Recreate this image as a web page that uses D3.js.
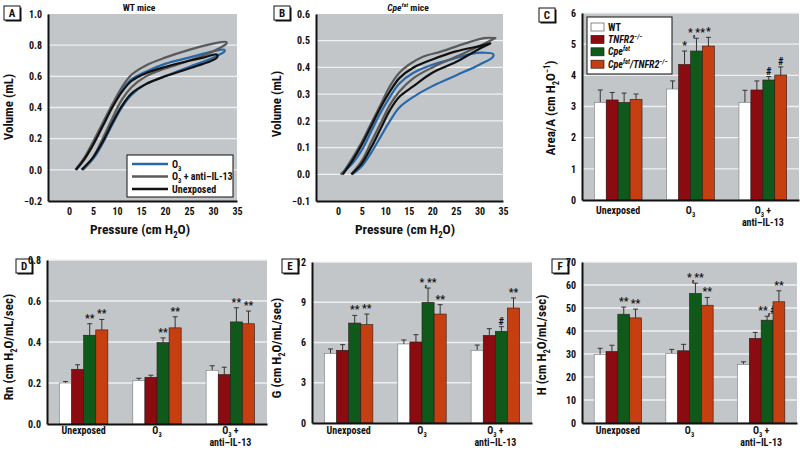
<!DOCTYPE html>
<html><head><meta charset="utf-8">
<script src="https://cdn.jsdelivr.net/npm/d3@7"></script>
<style>
body{margin:0;background:#fff}
svg text{font-family:"Liberation Sans Narrow","Arial Narrow","Roboto Condensed","Liberation Sans",sans-serif;font-weight:bold;fill:#111}
</style></head><body>
<svg id="c" width="800" height="451"></svg>
<script>
// ---------------- DATA ----------------
const groups = ["Unexposed", "O3", "O3 + anti-IL-13"];
const genotypes = ["WT", "TNFR2-/-", "Cpefat", "Cpefat/TNFR2-/-"];
const barColors = ["#ffffff", "#8a0c10", "#0f5a1b", "#c63f10"];

const areaMean = [[3.13, 3.21, 3.13, 3.23], [3.56, 4.35, 4.78, 4.94], [3.13, 3.53, 3.85, 4.01]];
const areaSE   = [[0.40, 0.24, 0.30, 0.17], [0.26, 0.43, 0.41, 0.28], [0.39, 0.29, 0.11, 0.26]];
const areaSig  = [["", "", "", ""], ["", "*", "*,**", "*"], ["", "", "#", "#"]];

const rnMean = [[0.200, 0.267, 0.433, 0.459], [0.211, 0.228, 0.397, 0.469], [0.262, 0.241, 0.498, 0.489]];
const rnSE   = [[0.007, 0.022, 0.056, 0.051], [0.012, 0.010, 0.023, 0.054], [0.022, 0.036, 0.069, 0.062]];
const rnSig  = [["", "", "**", "**"], ["", "", "**", "**"], ["", "", "**", "**"]];

const gMean = [[5.19, 5.42, 7.45, 7.33], [5.89, 6.04, 8.99, 8.12], [5.42, 6.53, 6.83, 8.57]];
const gSE   = [[0.33, 0.42, 0.57, 0.79], [0.30, 0.54, 1.07, 0.70], [0.39, 0.50, 0.35, 0.75]];
const gSig  = [["", "", "**", "**"], ["", "", "*,**", "**"], ["", "", "#", "**"]];

const hMean = [[29.8, 31.1, 47.3, 45.7], [30.3, 31.4, 56.3, 51.2], [25.5, 36.8, 44.7, 52.7]];
const hSE   = [[2.7, 2.7, 3.1, 3.8], [1.7, 2.8, 4.5, 3.4], [1.1, 2.6, 1.7, 4.8]];
const hSig  = [["", "", "**", "**"], ["", "", "*,**", "**"], ["", "", "**,#", "**"]];

const pressureTicks = [0, 5, 10, 15, 20, 25, 30, 35];
const volumeTicksA = [-0.2, 0.0, 0.2, 0.4, 0.6, 0.8, 1.0];
const volumeTicksB = [-0.1, 0.0, 0.1, 0.2, 0.3, 0.4, 0.5, 0.6];
const areaTicks = [0, 1, 2, 3, 4, 5, 6];
const rnTicks = [0.0, 0.2, 0.4, 0.6, 0.8];
const gTicks = [0, 3, 6, 9, 12];
const hTicks = [0, 10, 20, 30, 40, 50, 60, 70];

const loopNames = ["O3", "O3 + anti-IL-13", "Unexposed"];
const loopColors = ["#2868a8", "#5a5a5a", "#111111"];
// Panel A (WT mice): pressure (cm H2O), volume (mL) – inflation then deflation
const loopA_O3 = [[2.8,0],[5,0.07],[7,0.17],[9,0.29],[11,0.40],[13,0.48],[16,0.55],[20,0.60],[25,0.66],[30,0.72],[32.4,0.76],
  [32.4,0.77],[30,0.76],[25,0.72],[20,0.68],[16,0.63],[13,0.58],[11,0.51],[9,0.41],[7,0.29],[5,0.17],[3,0.06],[1.5,0]];
const loopA_anti = [[2.9,0],[5,0.08],[7,0.20],[9,0.33],[11,0.45],[13,0.53],[16,0.60],[20,0.65],[25,0.70],[30,0.76],[32.8,0.81],
  [32.8,0.82],[30,0.81],[25,0.77],[20,0.72],[16,0.67],[13,0.61],[11,0.53],[9,0.42],[7,0.30],[5,0.18],[3,0.07],[1.3,0]];
const loopA_unexp = [[2.6,0],[5,0.08],[7,0.18],[9,0.30],[11,0.41],[13,0.49],[16,0.55],[20,0.60],[25,0.65],[30.8,0.72],
  [30.8,0.74],[28,0.72],[25,0.70],[20,0.66],[16,0.62],[13,0.57],[11,0.50],[9,0.40],[7,0.28],[5,0.16],[3,0.06],[1.4,0]];
// Panel B (Cpefat mice)
const loopB_O3 = [[3,0],[5,0.03],[7,0.08],[9,0.14],[11,0.20],[13,0.25],[16,0.29],[20,0.33],[25,0.37],[30,0.41],[32.9,0.44],
  [32.9,0.45],[31,0.455],[28,0.45],[24,0.43],[20,0.41],[16,0.38],[13,0.34],[11,0.29],[9,0.23],[7,0.16],[5,0.09],[3,0.04],[0.5,0]];
const loopB_anti = [[2.8,0],[5,0.05],[7,0.12],[9,0.19],[11,0.26],[13,0.31],[16,0.36],[20,0.40],[25,0.44],[30,0.48],[33.4,0.51],
  [33.4,0.51],[31,0.51],[27,0.49],[22,0.46],[18,0.44],[15,0.41],[13,0.38],[11,0.33],[9,0.26],[7,0.19],[5,0.12],[3,0.06],[0.8,0]];
const loopB_unexp = [[2.8,0],[5,0.04],[7,0.10],[9,0.17],[11,0.24],[13,0.29],[16,0.33],[20,0.38],[25,0.42],[30,0.47],[32.3,0.49],
  [32.3,0.49],[30,0.48],[25,0.46],[20,0.43],[16,0.40],[13,0.36],[11,0.31],[9,0.25],[7,0.18],[5,0.11],[3,0.05],[1,0]];

// ---------------- DRAWING ----------------
const svg = d3.select("#c");
const BG = "#c3c6c9";

// rich text helper: segments [text, mode] mode: n normal, i italic, sub, sup, isup (italic sup)
function rich(sel, segs, size) {
  let shift = 0;
  segs.forEach(([t, m]) => {
    const ts = sel.append("tspan").text(t);
    let target = 0;
    if (m === "sub") target = size * 0.3;
    if (m === "sup" || m === "isup") target = -size * 0.4;
    if (target - shift !== 0) ts.attr("dy", target - shift);
    shift = target;
    if (m === "sub" || m === "sup" || m === "isup") ts.attr("font-size", size * 0.65);
    if (m === "i" || m === "isup") ts.attr("font-style", "italic");
  });
  return shift;
}

function letterBox(x, y, L) {
  const g = svg.append("g");
  g.append("rect").attr("x", x + 1.5).attr("y", y + 1.5).attr("width", 16).attr("height", 14).attr("fill", "#111");
  g.append("rect").attr("x", x).attr("y", y).attr("width", 16).attr("height", 14).attr("fill", "#fff").attr("stroke", "#111").attr("stroke-width", 1);
  g.append("text").attr("x", x + 8).attr("y", y + 11).attr("text-anchor", "middle").attr("font-size", 11).text(L);
}

function yLabel(cx, cy, segs) {
  const t = svg.append("text").attr("transform", `translate(${cx},${cy}) rotate(-90)`)
    .attr("text-anchor", "middle").attr("font-size", 13);
  rich(t, segs, 13);
}

function styleAxis(g, fs) {
  g.select(".domain").attr("stroke", "#111").attr("stroke-width", 2);
  g.selectAll("text").attr("font-size", fs).attr("fill", "#111")
   .attr("font-family", null);
}

function loopPanel(cfg) {
  const x = d3.scaleLinear().domain(cfg.xDomain).range([cfg.l, cfg.r]);
  const y = d3.scaleLinear().domain([cfg.yTicks[0], cfg.yTicks[cfg.yTicks.length - 1]]).range([cfg.b, cfg.t]);
  svg.append("rect").attr("x", cfg.l).attr("y", cfg.t).attr("width", cfg.r - cfg.l).attr("height", cfg.b - cfg.t).attr("fill", BG);
  svg.append("g").selectAll("line").data(cfg.yTicks.slice(1, -1)).join("line")
    .attr("x1", cfg.l).attr("x2", cfg.r).attr("y1", d => y(d)).attr("y2", d => y(d))
    .attr("stroke", "#eef0f2").attr("stroke-width", 1.3);
  const line = d3.line().x(d => x(d[0])).y(d => y(d[1])).curve(d3.curveCatmullRom.alpha(0.5));
  cfg.loops.forEach((pts, i) => {
    svg.append("path").datum(pts).attr("d", line).attr("fill", "none")
      .attr("stroke", loopColors[i]).attr("stroke-width", 2.2).attr("stroke-linejoin", "round");
  });
  const ay = svg.append("g").attr("transform", `translate(${cfg.l},0)`)
    .call(d3.axisLeft(y).tickValues(cfg.yTicks).tickSize(0).tickSizeOuter(0).tickPadding(6).tickFormat(d3.format(".1f")));
  styleAxis(ay, 10);
  const ax = svg.append("g").attr("transform", `translate(0,${cfg.b})`)
    .call(d3.axisBottom(x).tickValues(pressureTicks).tickSize(0).tickSizeOuter(0).tickPadding(7));
  styleAxis(ax, 10);
  const pt = svg.append("text").attr("x", cfg.pcx).attr("y", 234).attr("text-anchor", "middle").attr("font-size", 13.5);
  rich(pt, [["Pressure (cm H", "n"], ["2", "sub"], ["O)", "n"]], 13.5);
  return {x, y};
}

function barPanel(cfg) {
  const x0 = d3.scaleBand().domain(groups).range([cfg.l, cfg.r]).paddingInner(0.34).paddingOuter(0.17);
  const x1 = d3.scaleBand().domain(genotypes).range([0, x0.bandwidth()]);
  const y = d3.scaleLinear().domain([cfg.ticks[0], cfg.ticks[cfg.ticks.length - 1]]).range([cfg.b, cfg.t]);
  svg.append("rect").attr("x", cfg.l).attr("y", cfg.t).attr("width", cfg.r - cfg.l).attr("height", cfg.b - cfg.t).attr("fill", BG);
  svg.append("g").selectAll("line").data(cfg.ticks.slice(1)).join("line")
    .attr("x1", cfg.l).attr("x2", cfg.r).attr("y1", d => y(d)).attr("y2", d => y(d))
    .attr("stroke", "#eef0f2").attr("stroke-width", 1.3);
  groups.forEach((gname, gi) => {
    const gg = svg.append("g").attr("transform", `translate(${x0(gname)},0)`);
    genotypes.forEach((gt, k) => {
      const m = cfg.mean[gi][k], s = cfg.se[gi][k];
      const bx = x1(gt), bw = x1.bandwidth(), cx = bx + bw / 2;
      gg.append("line").attr("x1", cx).attr("x2", cx).attr("y1", y(m)).attr("y2", y(m + s)).attr("stroke", "#333").attr("stroke-width", 1);
      gg.append("line").attr("x1", cx - 2.5).attr("x2", cx + 2.5).attr("y1", y(m + s)).attr("y2", y(m + s)).attr("stroke", "#333").attr("stroke-width", 1);
      gg.append("rect").attr("x", bx).attr("y", y(m)).attr("width", bw).attr("height", y(cfg.ticks[0]) - y(m))
        .attr("fill", barColors[k]).attr("stroke", k === 0 ? "#777" : "#2a1a1a").attr("stroke-width", 0.6);
      const sg = cfg.sig[gi][k];
      if (sg) gg.append("text").attr("x", cx).attr("y", y(m + s) - 2).attr("text-anchor", "middle")
        .attr("font-size", 10.5).text(sg);
    });
  });
  const ay = svg.append("g").attr("transform", `translate(${cfg.l},0)`)
    .call(d3.axisLeft(y).tickValues(cfg.ticks).tickSize(0).tickSizeOuter(0).tickPadding(cfg.ypad || 6).tickFormat(cfg.fmt));
  styleAxis(ay, 10);
  const ax = svg.append("g").attr("transform", `translate(0,${cfg.b})`)
    .call(d3.axisBottom(x0).tickSize(0).tickSizeOuter(0).tickPadding(cfg.xpad));
  styleAxis(ax, 10);
  ax.selectAll(".tick").each(function(d) {
    const tick = d3.select(this);
    const t = tick.select("text"); t.text(null);
    if (d === "Unexposed") t.text("Unexposed");
    else if (d === "O3") rich(t, [["O", "n"], ["3", "sub"]], 10);
    else {
      rich(t, [["O", "n"], ["3", "sub"], [" +", "n"]], 10);
      tick.append("text").attr("y", cfg.xpad + 12).attr("dy", "0.71em").attr("fill", "#111")
        .attr("font-size", 10).text("anti\u2013IL-13");
    }
  });
  return {x0, x1, y};
}

// Panel A
letterBox(4, 6, "A");
svg.append("text").attr("x", 139).attr("y", 11).attr("text-anchor", "middle").attr("font-size", 9.5).attr("font-weight", "normal").text("WT mice");
loopPanel({l: 48, r: 237, t: 14, b: 201, xDomain: [-4.4, 35], yTicks: volumeTicksA, pcx: 140,
  loops: [loopA_O3, loopA_anti, loopA_unexp]});
yLabel(13, 107, [["Volume (mL)", "n"]]);
// legend A
const lgA = svg.append("g");
lgA.append("rect").attr("x", 127).attr("y", 155).attr("width", 106).attr("height", 42).attr("fill", "#fff").attr("stroke", "#111").attr("stroke-width", 1);
[[ [["O","n"],["3","sub"]], 0], [ [["O","n"],["3","sub"],[" + anti\u2013IL-13","n"]], 1], [ [["Unexposed","n"]], 2]].forEach(([segs, i]) => {
  const yy = 164 + i * 12.5;
  lgA.append("line").attr("x1", 132).attr("x2", 168).attr("y1", yy).attr("y2", yy).attr("stroke", loopColors[i]).attr("stroke-width", 2.4);
  const t = lgA.append("text").attr("x", 172).attr("y", yy + 3.5).attr("font-size", 10);
  rich(t, segs, 10);
});

// Panel B
letterBox(274, 6, "B");
const tb = svg.append("text").attr("x", 408).attr("y", 11).attr("text-anchor", "middle").attr("font-size", 9.5).attr("font-weight", "normal");
rich(tb, [["Cpe", "i"], ["fat", "isup"], [" mice", "n"]], 9.5);
loopPanel({l: 316, r: 503, t: 14, b: 201, xDomain: [-4.7, 35], yTicks: volumeTicksB, pcx: 405,
  loops: [loopB_O3, loopB_anti, loopB_unexp]});
yLabel(281, 104, [["Volume (mL)", "n"]]);

// Panel C
letterBox(539, 8, "C");
barPanel({l: 582, r: 799, t: 13, b: 200, ticks: areaTicks, mean: areaMean, se: areaSE, sig: areaSig, fmt: d3.format("d"), xpad: 7});
yLabel(555, 108, [["Area/A (cm H", "n"], ["2", "sub"], ["O", "n"], ["\u22121", "sup"], [")", "n"]]);
const lgC = svg.append("g");
lgC.append("rect").attr("x", 587).attr("y", 17).attr("width", 85).attr("height", 57).attr("fill", "#fff").attr("stroke", "#111").attr("stroke-width", 1);
const lgCLabels = [
  [["WT", "n"]],
  [["TNFR2", "i"], ["\u2212/\u2212", "isup"]],
  [["Cpe", "i"], ["fat", "isup"]],
  [["Cpe", "i"], ["fat", "isup"], ["/TNFR2", "i"], ["\u2212/\u2212", "isup"]]
];
lgCLabels.forEach((segs, i) => {
  const yy = 27 + i * 12.4;
  lgC.append("rect").attr("x", 591).attr("y", yy - 4).attr("width", 13).attr("height", 8)
    .attr("fill", barColors[i]).attr("stroke", i === 0 ? "#555" : "#2a1a1a").attr("stroke-width", 0.7);
  const t = lgC.append("text").attr("x", 608).attr("y", yy + 3.5).attr("font-size", 10);
  rich(t, segs, 10);
});

// Panel D
letterBox(16, 259, "D");
barPanel({l: 47, r: 267, t: 260, b: 424, ticks: rnTicks, mean: rnMean, se: rnSE, sig: rnSig, fmt: d3.format(".1f"), xpad: 3});
yLabel(13, 347, [["Rn (cm H", "n"], ["2", "sub"], ["O/mL/sec)", "n"]]);

// Panel E
letterBox(282, 259, "E");
barPanel({l: 312, r: 532, t: 262, b: 423, ticks: gTicks, mean: gMean, se: gSE, sig: gSig, fmt: d3.format("d"), xpad: 4});
yLabel(281, 348, [["G (cm H", "n"], ["2", "sub"], ["O/mL/sec)", "n"]]);

// Panel F
letterBox(552, 259, "F");
barPanel({l: 582, r: 797, t: 262, b: 423, ticks: hTicks, mean: hMean, se: hSE, sig: hSig, fmt: d3.format("d"), xpad: 4});
yLabel(546, 345, [["H (cm H", "n"], ["2", "sub"], ["O/mL/sec)", "n"]]);
</script>
</body></html>
